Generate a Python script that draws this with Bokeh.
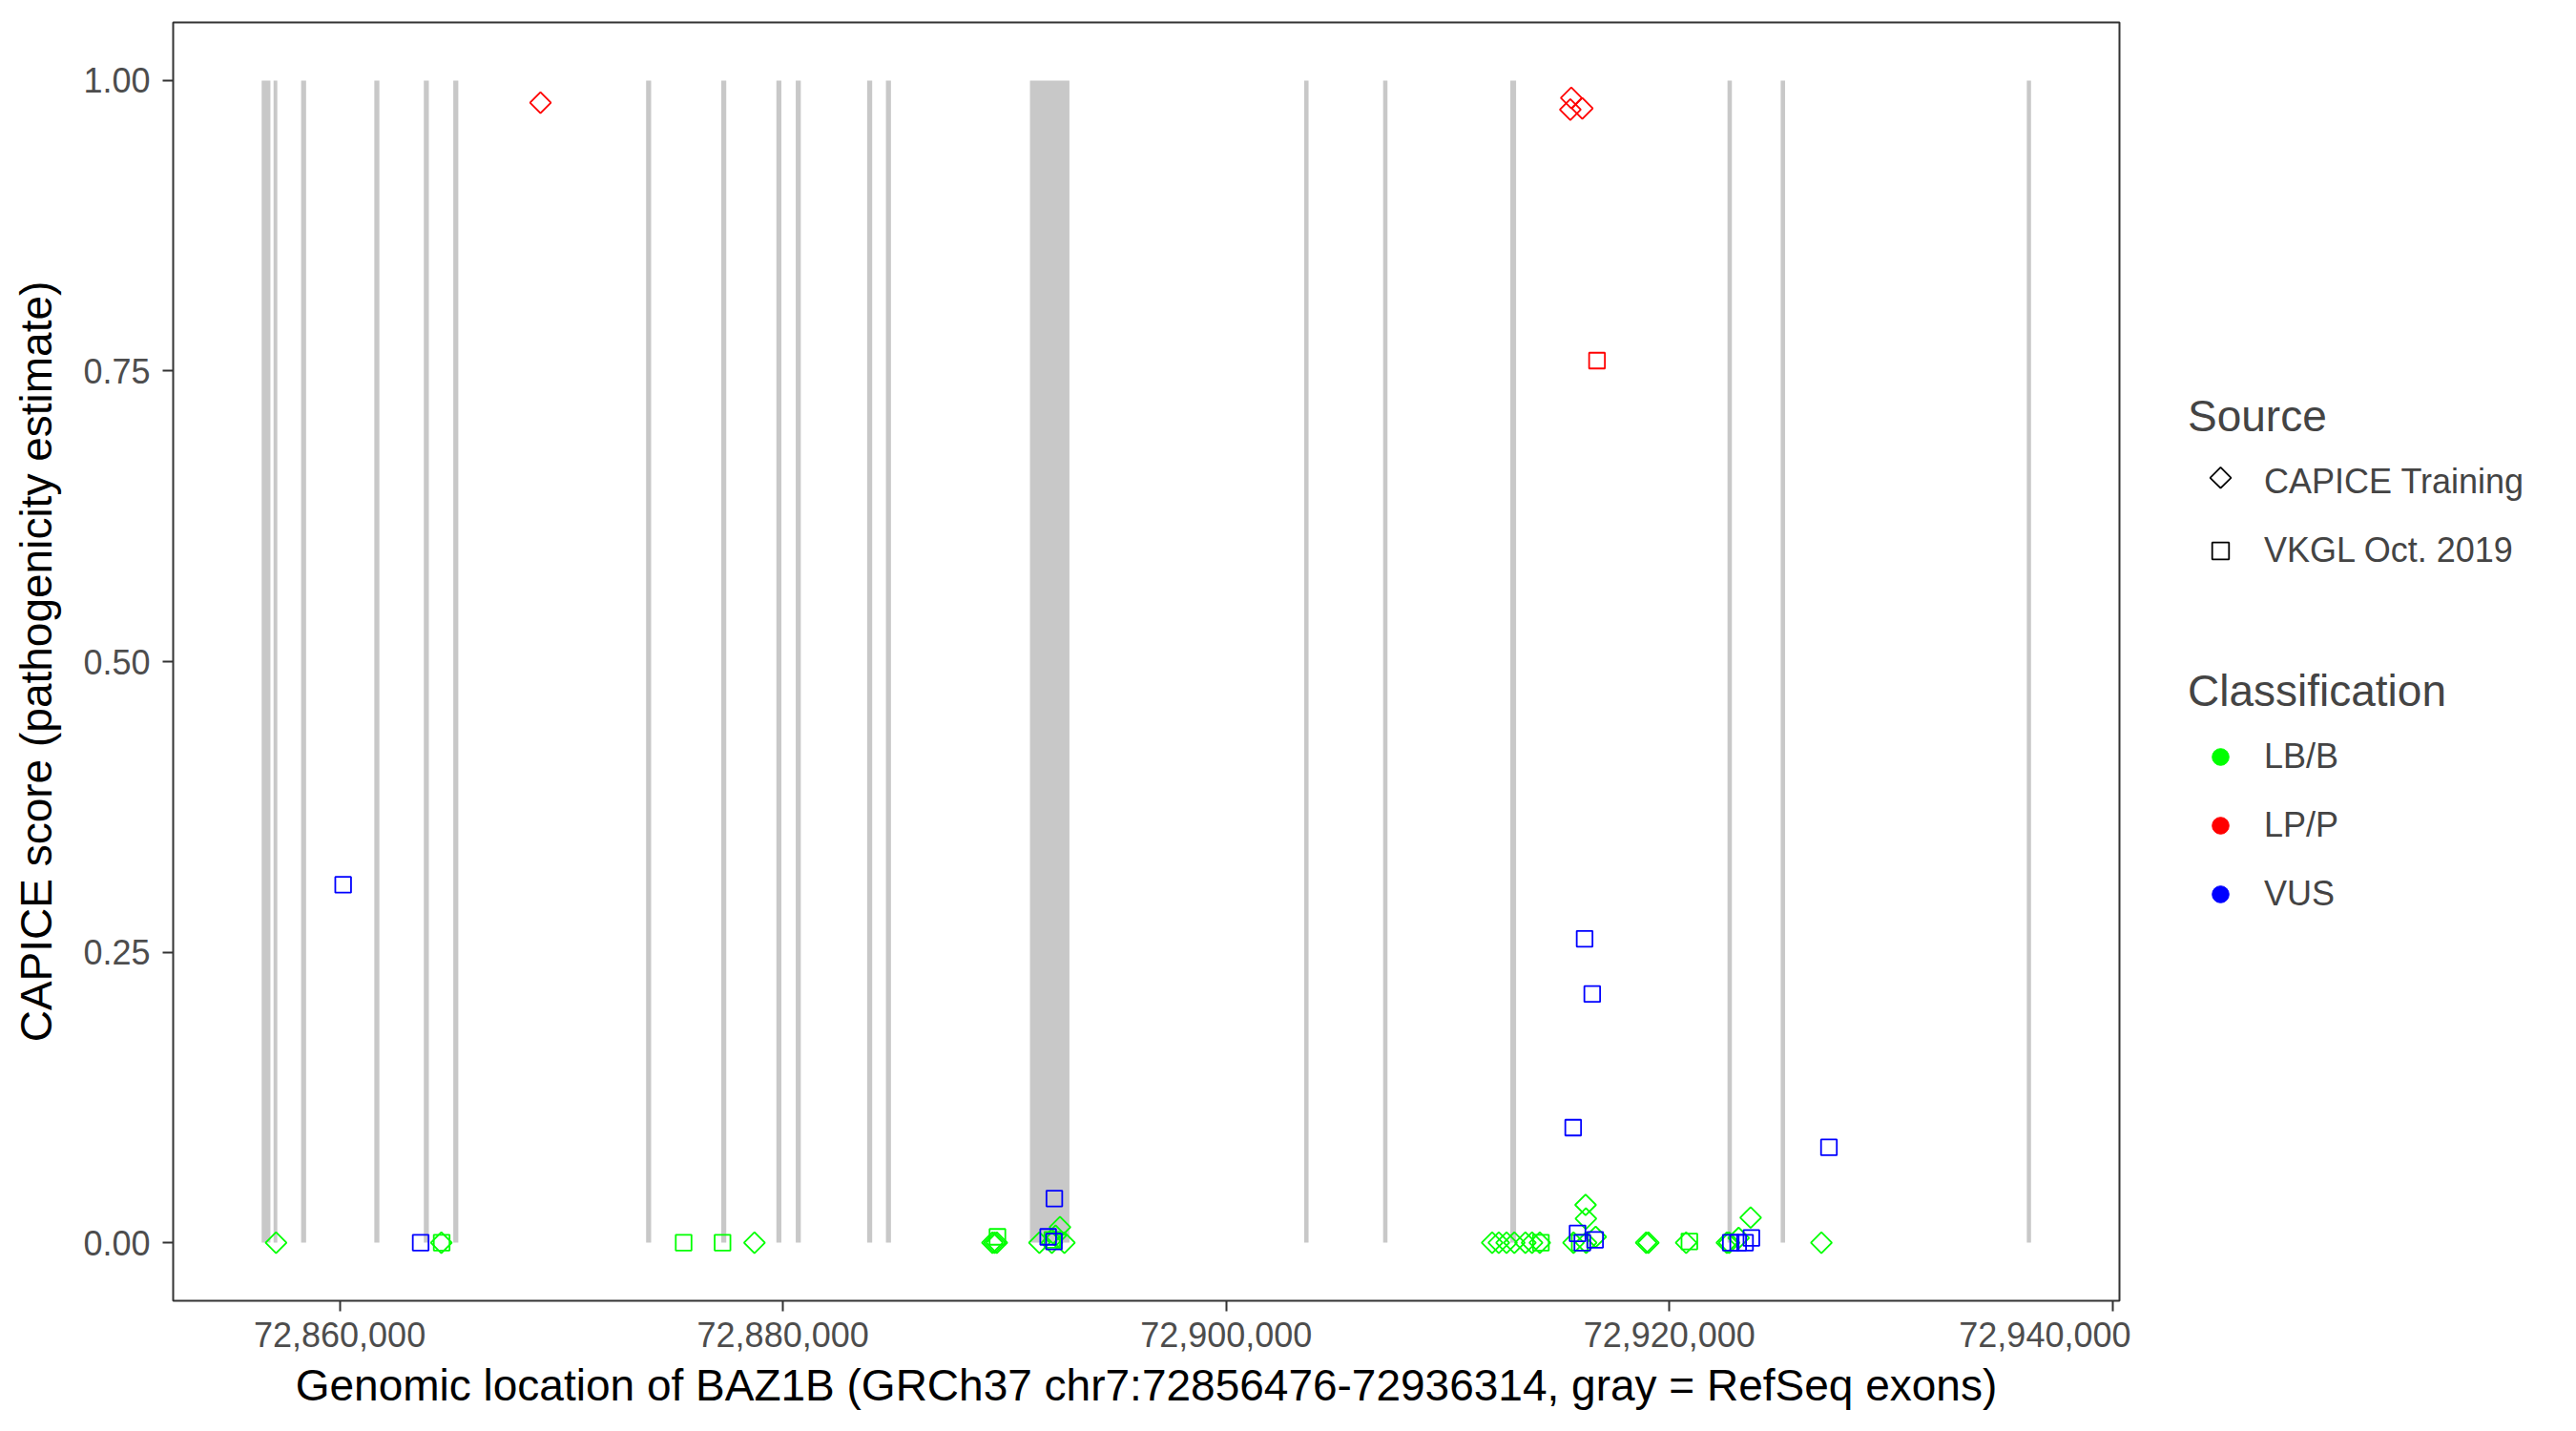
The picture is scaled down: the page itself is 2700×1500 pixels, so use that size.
import numpy as np
from bokeh.plotting import figure
from bokeh.models import (ColumnDataSource, Range1d, FixedTicker, NumeralTickFormatter,
                          Legend, LegendItem)
from bokeh.layouts import row
from bokeh.embed import file_html
from bokeh.resources import INLINE

# ---------------- data ----------------
GENE_START = 72856476
GENE_END = 72936314

exon_start = [72856477, 72857015, 72858258, 72861561, 72863794, 72865123, 72873824,
              72877217, 72879703, 72880577, 72883798, 72884645, 72891144, 72903518,
              72907080, 72912820, 72922619, 72925019, 72936125]
exon_end = [72856873, 72857183, 72858482, 72861789, 72864022, 72865351, 72874052,
            72877441, 72879927, 72880804, 72884026, 72884873, 72892925, 72903716,
            72907277, 72913080, 72922817, 72925217, 72936314]

# CAPICE Training (diamonds)
capice_pos = [72857127, 72864585, 72878714, 72889450, 72889550, 72889650, 72891570,
              72892133, 72892300, 72892500, 72892700, 72912000, 72912300, 72912650,
              72913000, 72913500, 72913800, 72914150, 72915669, 72916241, 72916671,
              72916215, 72916230, 72918950, 72919050, 72920753, 72922590, 72922692,
              72923122, 72923664, 72926856,
              72869058, 72915570, 72915527, 72916069]
capice_score = [0, 0, 0, 0, 0, 0, 0,
                0, 0.006, 0.0134, 0, 0, 0, 0,
                0, 0, 0, 0, 0, 0, 0.005,
                0.0325, 0.0207, 0, 0, 0, 0, 0,
                0.004, 0.0216, 0,
                0.981, 0.985, 0.975, 0.976]
capice_class = ["LB/B"] * 31 + ["LP/P"] * 4

# VKGL Oct. 2019 (squares)
vkgl_pos = [72864600, 72875518, 72877273, 72889677, 72892155, 72914200, 72915950, 72920900,
            72860155, 72863652, 72892245, 72891966, 72892228, 72916172, 72916516, 72915656,
            72927196, 72915853, 72916069, 72916645, 72922766, 72923100, 72923411, 72923698,
            72916731]
vkgl_score = [0, 0, 0, 0.005, 0.0025, 0, 0, 0.001,
              0.308, 0, 0.038, 0.005, 0.001, 0.2615, 0.214, 0.099,
              0.082, 0.008, 0, 0.0025, 0, 0, 0, 0.004,
              0.759]
vkgl_class = ["LB/B"] * 8 + ["VUS"] * 16 + ["LP/P"]

classes = ["LB/B", "LP/P", "VUS"]
class_colors = {"LB/B": "#00FF00", "LP/P": "#FF0000", "VUS": "#0000FF"}
sources = ["CAPICE Training", "VKGL Oct. 2019"]

x_ticks = [72860000, 72880000, 72900000, 72920000, 72940000]
y_ticks = [0, 0.25, 0.5, 0.75, 1.0]

FONT = "Liberation Sans"

# ---------------- main plot ----------------
span = GENE_END - GENE_START
x_range = Range1d(GENE_START - 0.05 * span, GENE_END + 0.05 * span)
y_range = Range1d(-0.05, 1.05)

FIG_H = 23 + 1340 + 120

p = figure(frame_width=2040, frame_height=1340, x_range=x_range, y_range=y_range,
           output_backend="svg", toolbar_location=None,
           min_border_left=181, min_border_top=23, min_border_right=12, min_border_bottom=120)
p.background_fill_color = "white"
p.border_fill_color = "white"
p.grid.visible = False
p.outline_line_color = "#333333"
p.outline_line_width = 2

exon_src = ColumnDataSource(dict(left=exon_start, right=exon_end,
                                 bottom=[0] * len(exon_start), top=[1] * len(exon_start)))
p.quad(left="left", right="right", bottom="bottom", top="top", source=exon_src,
       fill_color="#C8C8C8", line_color=None)

MARK = 16.5
DIA = 15.5
LW = 1.8
for cls in ["LB/B", "VUS", "LP/P"]:
    cx = [x for x, c in zip(capice_pos, capice_class) if c == cls]
    cy = [y for y, c in zip(capice_score, capice_class) if c == cls]
    if cx:
        p.scatter(x=cx, y=cy, marker="square", angle=np.pi / 4, size=DIA,
                  fill_color=None, line_color=class_colors[cls], line_width=LW)
    vx = [x for x, c in zip(vkgl_pos, vkgl_class) if c == cls]
    vy = [y for y, c in zip(vkgl_score, vkgl_class) if c == cls]
    if vx:
        p.scatter(x=vx, y=vy, marker="square", size=MARK,
                  fill_color=None, line_color=class_colors[cls], line_width=LW)

for ax in (p.xaxis, p.yaxis):
    ax.axis_line_color = None
    ax.major_tick_line_color = "#333333"
    ax.major_tick_line_width = 2
    ax.major_tick_in = 0
    ax.major_tick_out = 11
    ax.minor_tick_line_color = None
    ax.major_label_text_font = FONT
    ax.major_label_text_font_size = "36px"
    ax.major_label_text_color = "#4D4D4D"
    ax.axis_label_text_font = FONT
    ax.axis_label_text_font_size = "46px"
    ax.axis_label_text_font_style = "normal"
    ax.axis_label_text_color = "black"

p.xaxis.ticker = FixedTicker(ticks=x_ticks)
p.xaxis.formatter = NumeralTickFormatter(format="0,0")
p.xaxis.major_label_standoff = 11
p.xaxis.axis_label = "Genomic location of BAZ1B (GRCh37 chr7:72856476-72936314, gray = RefSeq exons)"
p.xaxis.axis_label_standoff = 11

p.yaxis.ticker = FixedTicker(ticks=y_ticks)
p.yaxis.formatter = NumeralTickFormatter(format="0.00")
p.yaxis.major_label_standoff = 13
p.yaxis.axis_label = "CAPICE score (pathogenicity estimate)"
p.yaxis.axis_label_standoff = 20

# ---------------- legend panel ----------------
LEG_W = 451
lf = figure(width=LEG_W, height=FIG_H, x_range=Range1d(0, LEG_W), y_range=Range1d(0, FIG_H),
            output_backend="svg", toolbar_location=None, title=None,
            x_axis_location=None, y_axis_location=None, min_border=0)
lf.grid.visible = False
lf.outline_line_color = None
lf.background_fill_color = "white"
lf.border_fill_color = "white"

LEG_X = 60
GLYPH_W = 68
GLYPH_H = 44

nan_src = ColumnDataSource(dict(x=[np.nan], y=[np.nan]))
# the diamond key is drawn as a rotated square over an empty legend slot
r_dia = lf.scatter("x", "y", source=nan_src, marker="square", size=DIA,
                   fill_color=None, line_color="black", line_alpha=0, line_width=LW)
r_sq = lf.scatter("x", "y", source=nan_src, marker="square", size=MARK,
                  fill_color=None, line_color="black", line_width=LW)
cls_r = {}
for cls in classes:
    cls_r[cls] = lf.scatter("x", "y", source=nan_src, marker="circle", size=18,
                            fill_color=class_colors[cls], line_color=class_colors[cls])


def style(leg):
    leg.title_text_font = FONT
    leg.title_text_font_size = "46px"
    leg.title_text_font_style = "normal"
    leg.label_text_font = FONT
    leg.label_text_font_size = "36px"
    leg.glyph_width = GLYPH_W
    leg.glyph_height = GLYPH_H
    leg.label_standoff = 12
    leg.spacing = 28
    leg.padding = 0
    leg.margin = 0
    leg.title_standoff = 20
    leg.border_line_color = None
    leg.background_fill_alpha = 0


leg1 = Legend(items=[LegendItem(label=sources[0], renderers=[r_dia]),
                     LegendItem(label=sources[1], renderers=[r_sq])],
              title="Source", location=(LEG_X, 764))
style(leg1)
leg2 = Legend(items=[LegendItem(label=c, renderers=[cls_r[c]]) for c in classes],
              title="Classification", location=(LEG_X, 404))
style(leg2)
lf.add_layout(leg1)
lf.add_layout(leg2)

# diamond key for "CAPICE Training", placed in the empty legend slot (legend-panel pixels)
KEY_X = [LEG_X + GLYPH_W / 2]
KEY_Y = [FIG_H - 528.2]
lf.scatter(x=KEY_X, y=KEY_Y, marker="square", angle=np.pi / 4, size=DIA,
           fill_color=None, line_color="black", line_width=LW)

layout = row(p, lf)
open("out.html", "w").write(file_html(layout, INLINE))
